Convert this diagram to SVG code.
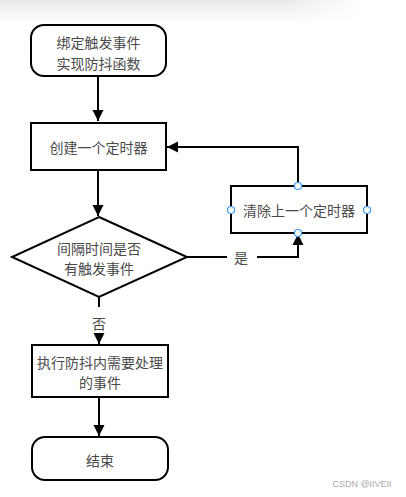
<svg xmlns="http://www.w3.org/2000/svg" width="406" height="497" viewBox="0 0 406 497">
<defs>
<linearGradient id="shade" x1="0" y1="0" x2="0" y2="1">
<stop offset="0" stop-color="#e9e9e9"/>
<stop offset="1" stop-color="#ffffff"/>
</linearGradient>
<linearGradient id="fadeR" x1="0" y1="0" x2="1" y2="0">
<stop offset="0" stop-color="#fff" stop-opacity="1"/>
<stop offset="0.8" stop-color="#fff" stop-opacity="1"/>
<stop offset="1" stop-color="#fff" stop-opacity="0"/>
</linearGradient>
<mask id="m"><rect x="0" y="0" width="360" height="24" fill="url(#fadeR)"/></mask>
<marker id="arr" viewBox="0 0 10 10" refX="10" refY="5" markerWidth="5.6" markerHeight="6" orient="auto" markerUnits="strokeWidth">
<path d="M0,0 L10,5 L0,10 z" fill="#000"/>
</marker>
<style>
.shape{fill:#fff;stroke:#000;stroke-width:2}
.t{font-family:"Noto Sans CJK SC","Noto Sans",sans-serif;font-size:14px;fill:#4a4a4a;text-anchor:middle;dominant-baseline:central}
.edge{fill:none;stroke:#000;stroke-width:2}
.pt{fill:#fff;stroke:#3d9bff;stroke-width:1.2}
</style>
</defs>
<rect width="406" height="497" fill="#fff"/>
<rect x="0" y="0" width="360" height="24" fill="url(#shade)" mask="url(#m)"/>
<g id="connectors">
<path class="edge" d="M98,76 L98,121" marker-end="url(#arr)"/>
<path class="edge" d="M98,170 L98,216" marker-end="url(#arr)"/>
<path class="edge" d="M187,257 L227,257"/>
<path class="edge" d="M257,257 L298,257 L298,234" marker-end="url(#arr)"/>
<path class="edge" d="M298,186 L298,147 L167,147" marker-end="url(#arr)"/>
<path class="edge" d="M99,297 L99,307"/>
<path class="edge" d="M99,335 L99,344" marker-end="url(#arr)"/>
<path class="edge" d="M99,397 L99,436" marker-end="url(#arr)"/>
<text class="t" x="241" y="257">是</text>
<text class="t" x="99" y="323">否</text>
</g>
<g id="start">
<rect class="shape" x="31" y="25" width="135" height="51" rx="13"/>
<text class="t" x="98.5" y="42">绑定触发事件</text>
<text class="t" x="98.5" y="63">实现防抖函数</text>
</g>
<g id="create">
<rect class="shape" x="31" y="123" width="135" height="47"/>
<text class="t" x="98.5" y="147">创建一个定时器</text>
</g>
<g id="decision">
<polygon class="shape" points="99,217 187,257 99,297 12,257"/>
<text class="t" x="99" y="248">间隔时间是否</text>
<text class="t" x="99" y="268">有触发事件</text>
</g>
<g id="clear">
<rect class="shape" x="231" y="186" width="136" height="47"/>
<text class="t" x="299" y="210">清除上一个定时器</text>
<circle class="pt" cx="298" cy="186" r="3.5"/>
<circle class="pt" cx="298" cy="233" r="3.5"/>
<circle class="pt" cx="231" cy="210" r="3.5"/>
<circle class="pt" cx="367" cy="210" r="3.5"/>
</g>
<g id="exec">
<rect class="shape" x="32" y="345" width="136" height="52"/>
<text class="t" x="100" y="362">执行防抖内需要处理</text>
<text class="t" x="100" y="382">的事件</text>
</g>
<g id="end">
<rect class="shape" x="32" y="437" width="136" height="43" rx="13"/>
<text class="t" x="100" y="460">结束</text>
</g>
<text x="362" y="484" font-family="Liberation Sans,sans-serif" font-size="9" fill="#aaa" text-anchor="middle" dominant-baseline="central">CSDN @IIVEII</text>
</svg>
